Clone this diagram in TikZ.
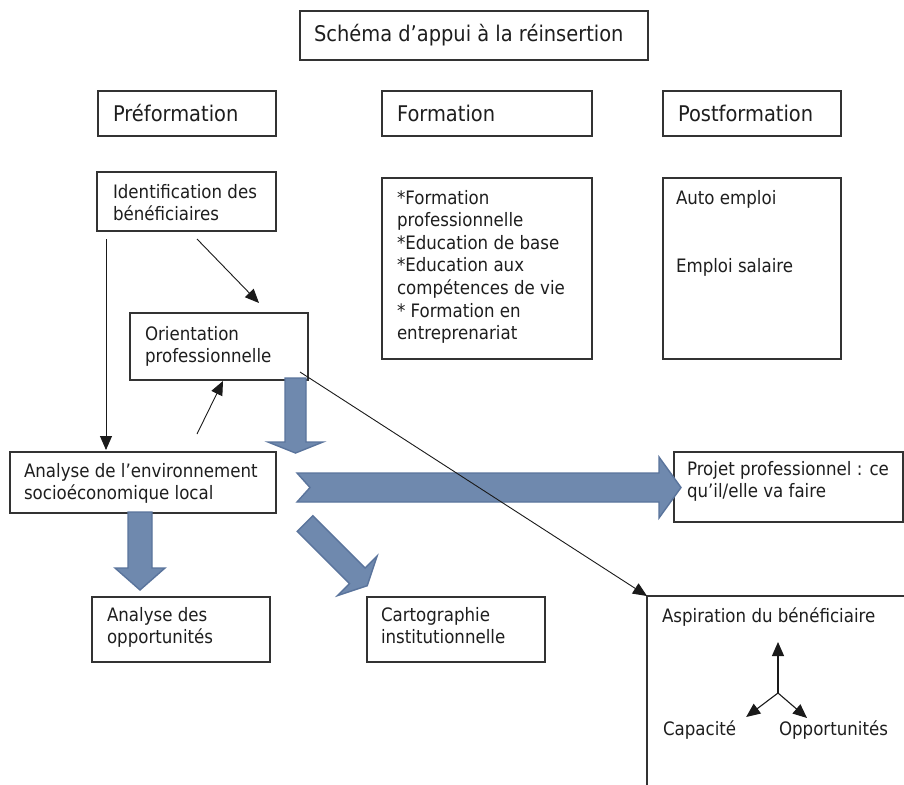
\documentclass[tikz,border=0pt]{standalone}
\usepackage{fontspec}
\setmainfont{DejaVu Sans}[FakeStretch=0.9]
\usetikzlibrary{arrows.meta}
\definecolor{boxline}{HTML}{333333}
\definecolor{txt}{HTML}{1E1E1E}
\definecolor{bafill}{HTML}{6F89AE}
\definecolor{baline}{HTML}{5A749C}
\definecolor{conline}{HTML}{1A1A1A}
\newcommand\bodysize{\fontsize{18.5pt}{22.6pt}\selectfont}
\newcommand\headsize{\fontsize{21.6pt}{26pt}\selectfont}
\newcommand\bxt[5]{\parbox[c][#1][t]{#2}{\raggedright\leftskip=#3\relax\rule{0pt}{#4}#5}}
\tikzset{
  box/.style={draw=boxline, line width=1.1pt, fill=white, inner sep=0pt, outer sep=0pt, anchor=north west, text=txt, font=\bodysize},
  lbl/.style={inner sep=0pt, outer sep=0pt, text=txt, font=\bodysize},
  conn/.style={draw=conline, line width=0.9pt, -{Triangle[length=14pt,width=12pt]}},
  blockarrow/.style={fill=bafill, draw=baline, line width=1.4pt, line join=miter}
}
\begin{document}
\begin{tikzpicture}[x=1pt,y=-1pt]
\path[use as bounding box] (0,0) rectangle (904,784);
\clip (0,0) rectangle (904,784);
\fill[white] (0,0) rectangle (904,784);

% boxes
\node[box] (title) at (300,11) {\bxt{49pt}{348pt}{14pt}{30pt}{\headsize Schéma d’appui à la réinsertion}};
\node[box] (pre) at (98,91) {\bxt{45pt}{178pt}{15pt}{30pt}{\headsize Préformation}};
\node[box] (form) at (382,91) {\bxt{45pt}{210pt}{15pt}{30pt}{\headsize Formation}};
\node[box] (post) at (663,91) {\bxt{45pt}{178pt}{15pt}{30pt}{\headsize Postformation}};
\node[box] (ident) at (97,172) {\bxt{59pt}{179pt}{16pt}{26pt}{Identification des\\bénéficiaires}};
\node[box] (flist) at (382,178) {\bxt{181pt}{210pt}{15pt}{26pt}{*Formation\\{}professionnelle\\{}*Education de base\\{}*Education aux\\{}compétences de vie\\{}* Formation en\\{}entreprenariat}};
\node[box] (plist) at (663,178) {\bxt{181pt}{178pt}{13pt}{26pt}{Auto emploi\\[46pt]Emploi salaire}};
\node[box] (orient) at (130,313) {\bxt{67pt}{178pt}{15pt}{27pt}{Orientation\\professionnelle}};
\node[box] (analyse) at (10,452) {\bxt{61pt}{266pt}{14pt}{25pt}{Analyse de l’environnement\\socioéconomique local}};
\node[box] (projet) at (674,452) {\bxt{70pt}{229pt}{13pt}{23pt}{Projet professionnel : ce\\qu’il/elle va faire}};
\node[box] (opp) at (92,597) {\bxt{65pt}{178pt}{15pt}{24pt}{Analyse des\\opportunités}};
\node[box] (carto) at (367,597) {\bxt{65pt}{178pt}{14pt}{24pt}{Cartographie\\institutionnelle}};
\node[box] (asp) at (647,596) {\bxt{240pt}{300pt}{15pt}{26pt}{Aspiration du bénéficiaire}};

% labels inside aspiration box
\node[lbl, anchor=base west] (cap) at (663,735) {Capacité};
\node[lbl, anchor=base west] (opt) at (779,735) {Opportunités};
\coordinate (hub) at (778,693);
\coordinate (aspup) at (778,642);
\draw[conn, line width=1.1pt] (hub) -- (aspup);
\draw[conn, line width=1.1pt] (hub) -- ([xshift=10pt,yshift=18pt]cap.base east);
\draw[conn, line width=1.1pt] (hub) -- ([xshift=28pt,yshift=17pt]opt.base west);

% block arrows
\draw[blockarrow] (285,378) -- (306,378) -- (306,442) -- (323,442) -- (295.5,453) -- (268,442) -- (285,442) -- cycle;
\draw[blockarrow] (128,512) -- (152,512) -- (152,568) -- (165,568) -- (140,590) -- (115,568) -- (128,568) -- cycle;
\draw[blockarrow] (297,473) -- (659,473) -- (659,457) -- (681,487.5) -- (659,518) -- (659,502) -- (297,502) -- (310,487.5) -- cycle;
\begin{scope}[shift={(305,523.5)}, rotate=-45]
\draw[blockarrow] (0,-11) -- (74,-11) -- (74,-28) -- (88,0) -- (74,28) -- (74,11) -- (0,11) -- cycle;
\end{scope}

% thin connectors
\draw[conn] ([xshift=9pt,yshift=-8pt]ident.south west) -- ([xshift=96pt,yshift=2pt]analyse.north west);
\draw[conn] ([xshift=100pt,yshift=-8pt]ident.south west) -- ([xshift=129pt,yshift=10pt]orient.north west);
\draw[conn] ([xshift=187pt,yshift=18pt]analyse.north west) -- ([xshift=93pt,yshift=-1pt]orient.south west);
\draw[conn] ([xshift=-8pt,yshift=8pt]orient.south east) -- (asp.north west);
\end{tikzpicture}
\end{document}
